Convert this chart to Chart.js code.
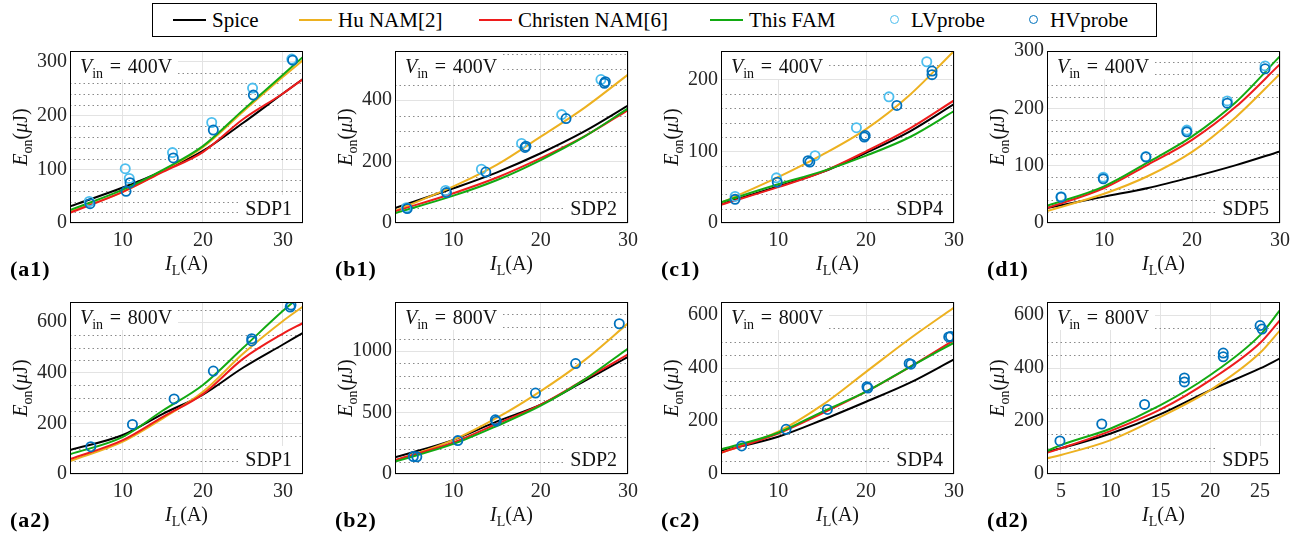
<!DOCTYPE html>
<html lang="en">
<head>
<meta charset="UTF-8">
<title>Turn-on energy vs. load current</title>
<script src="https://cdn.jsdelivr.net/npm/chart.js"></script>
<style>
  body {
    margin: 0;
    width: 1308px;
    height: 538px;
    position: relative;
    overflow: hidden;
    background: #fff;
    font-family: 'Liberation Serif', 'DejaVu Serif', serif;
  }
  .panel { position: absolute; }
  #legend {
    position: absolute;
    left: 152px;
    top: 3px;
    width: 1003px;
    height: 32px;
    border: 1.5px solid #000;
    font-size: 21px;
    color: #000;
  }
  #legend .txt { position: absolute; top: 0; line-height: 32px; white-space: nowrap; }
  #legend .swatch { position: absolute; top: 15px; width: 33px; height: 0; border-top: 2px solid; }
  #legend .dot { position: absolute; top: 11px; width: 7px; height: 7px; border: 1.6px solid; border-radius: 50%; }
</style>
</head>
<body>

<div id="legend"></div>

<script>
// ---- data: model curves (I_L in A, E_on in uJ) and probe measurements ----
const a1Grid  = [3.4, 10, 15, 20, 25, 30, 32.5];
const a1Spice = [31, 66, 97, 134, 186, 241, 268];
const a1Hu    = [21, 58, 97, 141, 207, 272, 303];
const a1Chr   = [19, 58, 95, 132, 193, 241, 268];
const a1Fam   = [24, 62, 99, 143, 210, 276, 309];
const a1LvI = [5.8, 10.3, 10.8, 16.2, 21.1, 26.2, 31.1];
const a1LvE = [40, 101, 83, 131, 187, 251, 305];
const a1HvI = [5.9, 10.4, 10.9, 16.3, 21.3, 26.3, 31.2];
const a1HvE = [36, 59, 75, 121, 173, 238, 303];

const b1Grid  = [3.3, 10, 15, 20, 25, 30];
const b1Spice = [49, 113, 165, 227, 298, 382];
const b1Hu    = [40, 119, 190, 281, 375, 483];
const b1Chr   = [38, 97, 148, 211, 282, 368];
const b1Fam   = [32, 89, 140, 205, 281, 373];
const b1LvI = [4.6, 9.1, 13.2, 17.8, 22.4, 26.9];
const b1LvE = [50, 106, 175, 259, 353, 467];
const b1HvI = [4.7, 9.2, 13.7, 18.2, 18.3, 22.9, 27.3, 27.4];
const b1HvE = [47, 99, 166, 246, 250, 340, 455, 460];

const c1Grid  = [3.5, 10, 15, 20, 25, 30];
const c1Spice = [26.5, 51, 71, 98, 128, 166];
const c1Hu    = [28, 64, 95, 131, 179, 240];
const c1Chr   = [25.5, 50, 71, 100, 132, 171];
const c1Fam   = [29, 54, 72, 94, 120, 156];
const c1LvI = [5.1, 9.8, 14.2, 18.9, 22.6, 26.9];
const c1LvE = [37, 63, 94, 133, 176, 225];
const c1HvI = [5.1, 9.9, 13.4, 13.6, 19.8, 19.9, 23.5, 27.5, 27.5];
const c1HvE = [33, 57, 87, 85, 120, 122, 164, 212, 207];

const d1Grid  = [3.5, 10, 15, 20, 25, 30];
const d1Spice = [26, 46, 61, 80, 101, 125];
const d1Hu    = [21, 51, 82, 124, 185, 260];
const d1Chr   = [26, 61, 102, 145, 203, 277];
const d1Fam   = [30, 64, 106, 151, 211, 291];
const d1LvI = [5.1, 9.9, 14.75, 19.4, 24.0, 28.3];
const d1LvE = [46, 80, 116, 162, 213, 274];
const d1HvI = [5.1, 9.9, 14.75, 19.4, 24.0, 28.3];
const d1HvE = [45, 77, 115, 159, 209, 269];

const a2Grid  = [3.4, 10, 15, 20, 25, 30, 32.5];
const a2Spice = [95, 154, 238, 314, 420, 512, 558];
const a2Hu    = [51, 128, 220, 325, 475, 605, 662];
const a2Chr   = [59, 134, 226, 316, 455, 555, 597];
const a2Fam   = [78, 147, 251, 352, 498, 645, 712];
const a2HvI = [6.0, 11.2, 16.4, 21.3, 26.1, 26.1, 30.9, 31.0];
const a2HvE = [108, 196, 297, 407, 526, 535, 660, 668];

const b2Grid  = [3.3, 10, 15, 20, 25, 30];
const b2Spice = [136, 278, 428, 564, 755, 954];
const b2Hu    = [109, 278, 458, 675, 925, 1226];
const b2Chr   = [114, 256, 409, 564, 768, 973];
const b2Fam   = [101, 245, 392, 556, 768, 1022];
const b2HvI = [5.4, 5.8, 10.5, 14.8, 14.9, 19.4, 24.0, 29.0];
const b2HvE = [142, 140, 272, 441, 430, 659, 899, 1223];

const c2Grid  = [3.5, 10, 15, 20, 25, 30];
const c2Spice = [87, 141, 204, 273, 345, 433];
const c2Hu    = [80, 160, 260, 386, 512, 629];
const c2Chr   = [80, 153, 229, 311, 405, 506];
const c2Fam   = [93, 156, 235, 311, 405, 496];
const c2HvI = [5.85, 10.9, 15.6, 20.1, 20.2, 24.9, 25.1, 29.4, 29.6];
const c2HvE = [106, 169, 244, 330, 325, 418, 415, 518, 520];

const d2Grid  = [3.6, 5, 10, 15, 20, 25, 27];
const d2Spice = [84, 97, 153, 226, 317, 399, 437];
const d2Hu    = [59, 72, 128, 216, 317, 458, 543];
const d2Chr   = [80, 97, 163, 244, 355, 495, 581];
const d2Fam   = [87, 109, 172, 260, 374, 525, 619];
const d2HvI = [4.9, 9.1, 13.4, 17.4, 17.4, 21.3, 21.3, 25.0, 25.2];
const d2HvE = [125, 189, 263, 363, 348, 457, 443, 561, 548];

const seriesNames  = ['Spice', 'Hu NAM[2]', 'Christen NAM[6]', 'This FAM', 'LVprobe', 'HVprobe'];
const seriesColors = ['#000000', '#EDB120', '#EE1C1C', '#12AA12', '#4DBEEE', '#0072BD'];

// ---- layout ----
const colLeft = [70, 395, 721, 1047];
const rowTop = [51, 302];
const PLOT_W = 233, PLOT_H = 172;
const PAD_L = 70, PAD_T = 12, PAD_R = 10, PAD_B = 58;
const FONT = "'Liberation Serif', 'DejaVu Serif', serif";

const panels = [
  { tag: 'a1', col: 0, row: 0, grid: a1Grid, curves: [a1Spice, a1Hu, a1Chr, a1Fam], lvI: a1LvI, lvE: a1LvE, hvI: a1HvI, hvE: a1HvE,
    xMin: 3.4, xMax: 32.5, xStep: 10, yMax: 320, yStep: 100, yMinor: 20, vin: '400V', sdp: 'SDP1' },
  { tag: 'b1', col: 1, row: 0, grid: b1Grid, curves: [b1Spice, b1Hu, b1Chr, b1Fam], lvI: b1LvI, lvE: b1LvE, hvI: b1HvI, hvE: b1HvE,
    xMin: 3.3, xMax: 30, xStep: 10, yMax: 560, yStep: 200, yMinor: 50, vin: '400V', sdp: 'SDP2' },
  { tag: 'c1', col: 2, row: 0, grid: c1Grid, curves: [c1Spice, c1Hu, c1Chr, c1Fam], lvI: c1LvI, lvE: c1LvE, hvI: c1HvI, hvE: c1HvE,
    xMin: 3.5, xMax: 30, xStep: 10, yMax: 240, yStep: 100, yMinor: 20, vin: '400V', sdp: 'SDP4' },
  { tag: 'd1', col: 3, row: 0, grid: d1Grid, curves: [d1Spice, d1Hu, d1Chr, d1Fam], lvI: d1LvI, lvE: d1LvE, hvI: d1HvI, hvE: d1HvE,
    xMin: 3.5, xMax: 30, xStep: 10, yMax: 300, yStep: 100, yMinor: 20, vin: '400V', sdp: 'SDP5' },
  { tag: 'a2', col: 0, row: 1, grid: a2Grid, curves: [a2Spice, a2Hu, a2Chr, a2Fam], lvI: [], lvE: [], hvI: a2HvI, hvE: a2HvE,
    xMin: 3.4, xMax: 32.5, xStep: 10, yMax: 680, yStep: 200, yMinor: 50, vin: '800V', sdp: 'SDP1' },
  { tag: 'b2', col: 1, row: 1, grid: b2Grid, curves: [b2Spice, b2Hu, b2Chr, b2Fam], lvI: [], lvE: [], hvI: b2HvI, hvE: b2HvE,
    xMin: 3.3, xMax: 30, xStep: 10, yMax: 1400, yStep: 500, yMinor: 100, vin: '800V', sdp: 'SDP2' },
  { tag: 'c2', col: 2, row: 1, grid: c2Grid, curves: [c2Spice, c2Hu, c2Chr, c2Fam], lvI: [], lvE: [], hvI: c2HvI, hvE: c2HvE,
    xMin: 3.5, xMax: 30, xStep: 10, yMax: 650, yStep: 200, yMinor: 50, vin: '800V', sdp: 'SDP4' },
  { tag: 'd2', col: 3, row: 1, grid: d2Grid, curves: [d2Spice, d2Hu, d2Chr, d2Fam], lvI: [], lvE: [], hvI: d2HvI, hvE: d2HvE,
    xMin: 3.6, xMax: 27, xStep: 5, yMax: 650, yStep: 200, yMinor: 50, vin: '800V', sdp: 'SDP5' }
];

// ---- legend ----
const legend = document.getElementById('legend');
const legendX = [20, 146, 326, 557, 742, 881];
seriesNames.forEach((name, i) => {
  const mark = document.createElement('span');
  const txt = document.createElement('span');
  txt.className = 'txt';
  txt.textContent = name;
  if (i < 4) {
    mark.className = 'swatch';
    mark.style.left = legendX[i] + 'px';
    txt.style.left = (legendX[i] + 39) + 'px';
  } else {
    mark.className = 'dot';
    mark.style.left = (legendX[i] - 5) + 'px';
    txt.style.left = (legendX[i] + 16) + 'px';
  }
  mark.style.borderColor = seriesColors[i];
  legend.appendChild(mark);
  legend.appendChild(txt);
});

// ---- rich text (italic symbols, subscripts) ----
function fontFor(style, size) {
  if (style === 'i') return `italic ${size}px ${FONT}`;
  if (style === 's') return `${Math.round(size * 0.7)}px ${FONT}`;
  if (style === 'b') return `bold ${size}px ${FONT}`;
  return `${size}px ${FONT}`;
}
function richWidth(ctx, parts, size) {
  let w = 0;
  for (const [t, s] of parts) { ctx.font = fontFor(s, size); w += ctx.measureText(t).width; }
  return w;
}
function drawRich(ctx, parts, x, y, size, align) {
  const w = richWidth(ctx, parts, size);
  let cx = align === 'center' ? x - w / 2 : align === 'right' ? x - w : x;
  ctx.textAlign = 'left';
  ctx.textBaseline = 'alphabetic';
  for (const [t, s] of parts) {
    ctx.font = fontFor(s, size);
    ctx.fillText(t, cx, s === 's' ? y + size * 0.25 : y);
    cx += ctx.measureText(t).width;
  }
}

const yTitle = [['E', 'i'], ['on', 's'], ['(', 'r'], ['\u03BC', 'i'], ['J', 'r'], [')', 'r']];
const xTitle = [['I', 'i'], ['L', 's'], ['(A)', 'r']];

function stepTicks(scale, step) {
  const out = [];
  for (let v = Math.ceil(scale.min / step - 1e-9) * step; v <= scale.max + 1e-9; v += step) {
    out.push({ value: Math.round(v * 1000) / 1000 });
  }
  scale.ticks = out;
}

// minor dotted grid, text boxes, frame and axis titles
const deco = {
  id: 'deco',
  beforeDatasetsDraw(chart, args, o) {
    const { ctx, chartArea: a } = chart;
    const y = chart.scales.y;
    ctx.save();
    ctx.strokeStyle = '#8a8a8a';
    ctx.lineWidth = 1;
    ctx.setLineDash([1.5, 3]);
    for (let v = o.yMinor; v < y.max; v += o.yMinor) {
      if (Math.abs(v / o.yStep - Math.round(v / o.yStep)) < 1e-6) continue;
      const py = Math.round(y.getPixelForValue(v)) + 0.5;
      ctx.beginPath();
      ctx.moveTo(a.left, py);
      ctx.lineTo(a.right, py);
      ctx.stroke();
    }
    ctx.restore();
  },
  afterDatasetsDraw(chart, args, o) {
    const { ctx, chartArea: a } = chart;
    ctx.save();
    ctx.fillStyle = '#fff';
    ctx.fillRect(a.left + 1, a.top + 1, 107, 27);
    ctx.fillRect(a.right - 62, a.bottom - 28, 61, 27);
    ctx.fillStyle = '#111';
    drawRich(ctx, [['V', 'i'], ['in', 's'], ['\u2004=\u2004' + o.vin, 'r']], a.left + 10, a.top + 22, 20, 'left');
    drawRich(ctx, [[o.sdp, 'r']], a.right - 11, a.bottom - 8, 20, 'right');
    ctx.strokeStyle = '#000';
    ctx.lineWidth = 1;
    ctx.strokeRect(a.left + 0.5, a.top + 0.5, a.right - a.left - 1, a.bottom - a.top - 1);
    ctx.restore();
  },
  afterDraw(chart, args, o) {
    const { ctx, chartArea: a } = chart;
    ctx.save();
    ctx.fillStyle = '#111';
    drawRich(ctx, xTitle, (a.left + a.right) / 2, a.bottom + 47, 20, 'center');
    ctx.translate(a.left - 50, (a.top + a.bottom) / 2);
    ctx.rotate(-Math.PI / 2);
    drawRich(ctx, yTitle, 0, 7, 20, 'center');
    ctx.restore();
    // panel tag, bold and a bit wider than the body text
    ctx.save();
    ctx.fillStyle = '#000';
    ctx.letterSpacing = '1px';
    drawRich(ctx, [['(' + o.tag + ')', 'b']], a.left - 60, a.bottom + 53, 22, 'left');
    ctx.restore();
  }
};

function curve(label, xs, ys, color, order) {
  return {
    label, order, data: xs.map((x, i) => ({ x, y: ys[i] })),
    borderColor: color, borderWidth: 2, pointRadius: 0, fill: false,
    cubicInterpolationMode: 'monotone', clip: 0
  };
}
function marks(label, xs, ys, color, order) {
  return {
    label, order, data: xs.map((x, i) => ({ x, y: ys[i] })),
    showLine: false, pointRadius: 4.6, pointBorderWidth: 1.8,
    pointBorderColor: color, pointBackgroundColor: 'rgba(0,0,0,0)', borderColor: color
  };
}

const tickFont = { family: FONT, size: 20 };

panels.forEach(p => {
  const wrap = document.createElement('div');
  wrap.className = 'panel';
  wrap.style.left = (colLeft[p.col] - PAD_L) + 'px';
  wrap.style.top = (rowTop[p.row] - PAD_T) + 'px';
  const cv = document.createElement('canvas');
  cv.width = PAD_L + PLOT_W + PAD_R;
  cv.height = PAD_T + PLOT_H + PAD_B;
  wrap.appendChild(cv);
  document.body.appendChild(wrap);

  const datasets = [
    curve(seriesNames[0], p.grid, p.curves[0], seriesColors[0], 5),
    curve(seriesNames[1], p.grid, p.curves[1], seriesColors[1], 4),
    curve(seriesNames[2], p.grid, p.curves[2], seriesColors[2], 3),
    curve(seriesNames[3], p.grid, p.curves[3], seriesColors[3], 2),
    marks(seriesNames[4], p.lvI, p.lvE, seriesColors[4], 1),
    marks(seriesNames[5], p.hvI, p.hvE, seriesColors[5], 0)
  ];

  new Chart(cv.getContext('2d'), {
    type: 'line',
    data: { datasets },
    plugins: [deco],
    options: {
      responsive: false,
      animation: false,
      devicePixelRatio: 1,
      layout: { padding: { top: PAD_T, right: PAD_R, left: 0, bottom: 0 } },
      plugins: {
        legend: { display: false },
        tooltip: { enabled: false },
        deco: { tag: p.tag, vin: p.vin, sdp: p.sdp, yStep: p.yStep, yMinor: p.yMinor }
      },
      scales: {
        x: {
          type: 'linear', min: p.xMin, max: p.xMax,
          border: { display: false },
          grid: { color: '#e3e3e3', lineWidth: 1, drawTicks: false },
          ticks: { padding: 6, font: tickFont, color: '#262626', maxRotation: 0, callback: v => String(v) },
          afterBuildTicks: s => stepTicks(s, p.xStep),
          afterFit(s) { s.height = PAD_B; s.paddingLeft = s.paddingRight = 0; }
        },
        y: {
          type: 'linear', min: 0, max: p.yMax,
          border: { display: false },
          grid: { color: '#e3e3e3', lineWidth: 1, drawTicks: false },
          ticks: { padding: 3, font: tickFont, color: '#262626', callback: v => String(v) },
          afterBuildTicks: s => stepTicks(s, p.yStep),
          afterFit(s) { s.width = PAD_L; s.paddingTop = s.paddingBottom = 0; }
        }
      }
    }
  });
});
</script>
</body>
</html>
